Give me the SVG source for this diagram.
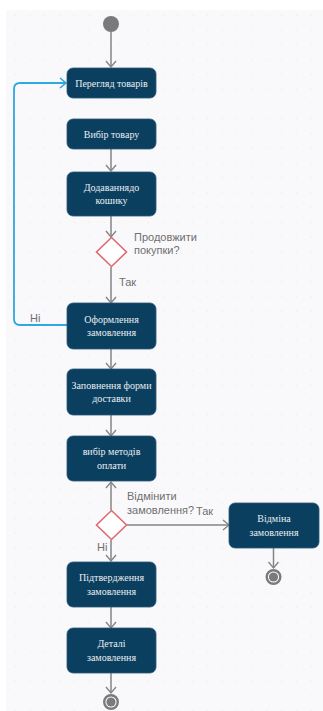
<svg xmlns="http://www.w3.org/2000/svg" width="323" height="711" viewBox="0 0 323 711">
<defs>
<pattern id="dots" x="0" y="0" width="14.8" height="14.8" patternUnits="userSpaceOnUse">
<circle cx="15" cy="15" r="0.8" fill="#d6d6de"/>
<circle cx="0" cy="0" r="0.8" fill="#d6d6de"/>
</pattern>
<marker id="arr" markerWidth="12" markerHeight="12" refX="9" refY="6" orient="auto" markerUnits="userSpaceOnUse">
<path d="M3,1 L9,6 L3,11" fill="none" stroke="#858585" stroke-width="1.4"/>
</marker>
<marker id="arrb" markerWidth="12" markerHeight="12" refX="9" refY="6" orient="auto" markerUnits="userSpaceOnUse">
<path d="M3,1 L9,6 L3,11" fill="none" stroke="#2ea8e0" stroke-width="1.6"/>
</marker>
</defs>
<style>
.node rect{fill:#0b3f5f;stroke:#2c5877;stroke-width:0.8}
.node text{font-family:"Liberation Serif","Times New Roman",serif;font-size:10px;fill:#e9eef2;text-anchor:middle}
.edge{fill:none;stroke:#858585;stroke-width:1.5;marker-end:url(#arr)}
.lbl{font-family:"Liberation Sans",Arial,sans-serif;font-size:11px;fill:#6f6f6f}
.dia{fill:#ffffff;stroke:#de6a72;stroke-width:1.6}
</style>
<rect x="0" y="0" width="323" height="711" fill="#ffffff"/>
<rect x="6" y="10" width="317" height="701" fill="#f9f9fb"/>
<rect x="6" y="10" width="317" height="701" fill="url(#dots)"/>

<g id="connectors">
<path class="edge" d="M111,32 L111,67"/>
<path class="edge" d="M111,149 L111,171"/>
<path class="edge" d="M111,216 L111,237"/>
<path class="edge" d="M111,267 L111,303"/>
<path d="M67,325 L20,325 Q14,325 14,319 L14,89 Q14,83 20,83 L66,83" fill="none" stroke="#2ea8e0" stroke-width="1.8" marker-end="url(#arrb)"/>
<path class="edge" d="M111,349 L111,369"/>
<path class="edge" d="M111,415 L111,436"/>
<path class="edge" d="M111,510 L111,482"/>
<path class="edge" d="M127,525 L229,525"/>
<path class="edge" d="M273.5,548 L273.5,568"/>
<path class="edge" d="M111,540 L111,561"/>
<path class="edge" d="M111,607 L111,628"/>
<path class="edge" d="M111,673 L111,693"/>
<text class="lbl" x="134" y="241">Продовжити</text>
<text class="lbl" x="134" y="254">покупки?</text>
<text class="lbl" x="119" y="286">Так</text>
<text class="lbl" x="30" y="322">Ні</text>
<text class="lbl" x="127" y="500">Відмінити</text>
<text class="lbl" x="127" y="514">замовлення?</text>
<text class="lbl" x="196" y="515">Так</text>
<text class="lbl" x="97" y="551">Ні</text>
</g>

<g id="start"><circle cx="111" cy="24" r="8" fill="#7a7a7a"/></g>

<g id="n1" class="node"><rect x="67" y="68" width="89" height="30" rx="6"/><text x="111.5" y="86.5">Перегляд товарів</text></g>
<g id="n2" class="node"><rect x="67" y="119" width="89" height="30" rx="6"/><text x="111.5" y="137.5">Вибір товару</text></g>
<g id="n3" class="node"><rect x="67" y="172" width="89" height="44" rx="6"/><text x="111.5" y="190.5">Додаваннядо</text><text x="111.5" y="204">кошику</text></g>
<g id="d1"><path class="dia" d="M111.5,237.5 L126.5,252 L111.5,266.5 L96.5,252 Z"/></g>
<g id="n4" class="node"><rect x="67" y="303" width="89" height="46" rx="6"/><text x="111.5" y="322.5">Оформлення</text><text x="111.5" y="336">замовлення</text></g>
<g id="n5" class="node"><rect x="67" y="369" width="89" height="46" rx="6"/><text x="111.5" y="388.5">Заповнення форми</text><text x="111.5" y="402">доставки</text></g>
<g id="n6" class="node"><rect x="67" y="436" width="89" height="45" rx="6"/><text x="111.5" y="455">вибір методів</text><text x="111.5" y="468.5">оплати</text></g>
<g id="d2"><path class="dia" d="M111.5,510.5 L126.5,525 L111.5,539.5 L96.5,525 Z"/></g>
<g id="n7" class="node"><rect x="229" y="503" width="90" height="45" rx="6"/><text x="274" y="522">Відміна</text><text x="274" y="535.5">замовлення</text></g>
<g id="end1"><circle cx="273.5" cy="577" r="6.8" fill="#ffffff" stroke="#7a7a7a" stroke-width="2.4"/><circle cx="273.5" cy="577" r="4.6" fill="#7a7a7a"/></g>
<g id="n8" class="node"><rect x="67" y="562" width="89" height="45" rx="6"/><text x="111.5" y="581">Підтвердження</text><text x="111.5" y="594.5">замовлення</text></g>
<g id="n9" class="node"><rect x="67" y="628" width="89" height="45" rx="6"/><text x="111.5" y="647">Деталі</text><text x="111.5" y="660.5">замовлення</text></g>
<g id="end2"><circle cx="111" cy="702" r="6.8" fill="#ffffff" stroke="#7a7a7a" stroke-width="2.4"/><circle cx="111" cy="702" r="4.6" fill="#7a7a7a"/></g>
</svg>
